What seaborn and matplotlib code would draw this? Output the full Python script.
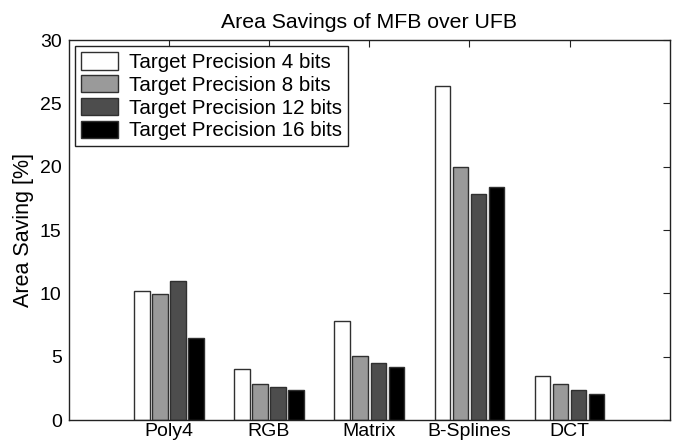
import matplotlib
matplotlib.use("Agg")
from matplotlib import pyplot as plt
import pandas as pd
import seaborn as sns

# values
benchmarks = ["Poly4", "RGB", "Matrix", "B-Splines", "DCT"]
precisions = [
    "Target Precision 4 bits",
    "Target Precision 8 bits",
    "Target Precision 12 bits",
    "Target Precision 16 bits",
]
saving_4 = [10.2, 4.0, 7.8, 26.4, 3.5]
saving_8 = [9.95, 2.84, 5.1, 19.95, 2.84]
saving_12 = [10.95, 2.6, 4.5, 17.85, 2.4]
saving_16 = [6.47, 2.37, 4.2, 18.4, 2.1]
colors = ["#ffffff", "#9a9a9a", "#4d4d4d", "#000000"]

rows = []
for prec, vals in zip(precisions, [saving_4, saving_8, saving_12, saving_16]):
    for bench, v in zip(benchmarks, vals):
        rows.append({"benchmark": bench, "precision": prec, "saving": v})
df = pd.DataFrame(rows)

sns.set_style("white")
plt.rcParams["font.family"] = ["Liberation Sans", "DejaVu Sans"]
plt.rcParams["text.color"] = "black"
plt.rcParams["axes.labelcolor"] = "black"
plt.rcParams["xtick.labelcolor"] = "black"
plt.rcParams["ytick.labelcolor"] = "black"

fig = plt.figure(figsize=(6.8, 4.46), dpi=100)
ax = fig.add_axes([0.101, 0.058, 0.884, 0.852])

sns.barplot(
    data=df,
    x="benchmark",
    y="saving",
    hue="precision",
    order=benchmarks,
    hue_order=precisions,
    palette=colors,
    width=0.72,
    gap=0.14,
    edgecolor="#303030",
    linewidth=1.0,
    errorbar=None,
    ax=ax,
)

ax.set_xlim(-1, 5)
ax.set_ylim(0, 30)
ax.set_yticks(range(0, 31, 5))
ax.set_xlabel("")
ax.set_ylabel("Area Saving [%]", fontsize=15.5, labelpad=4)
ax.set_title("Area Savings of MFB over UFB", fontsize=15.3, pad=9)
ax.tick_params(axis="both", direction="in", length=5, width=0.8,
               top=True, right=True, labelsize=14, color="#222222")
ax.tick_params(axis="x", pad=2)
ax.tick_params(axis="y", pad=5)
for s in ax.spines.values():
    s.set_visible(True)
    s.set_color("#222222")
    s.set_linewidth(1.0)

leg = ax.legend(loc="upper left", fontsize=14.8, fancybox=False,
                frameon=True, borderaxespad=0.3, handlelength=1.8,
                handleheight=0.9, handletextpad=0.55, labelspacing=0.15,
                borderpad=0.3)
leg.get_frame().set_edgecolor("#222222")
leg.get_frame().set_linewidth(1.0)
leg.get_frame().set_alpha(1)

fig.savefig("out.png", dpi=100)
